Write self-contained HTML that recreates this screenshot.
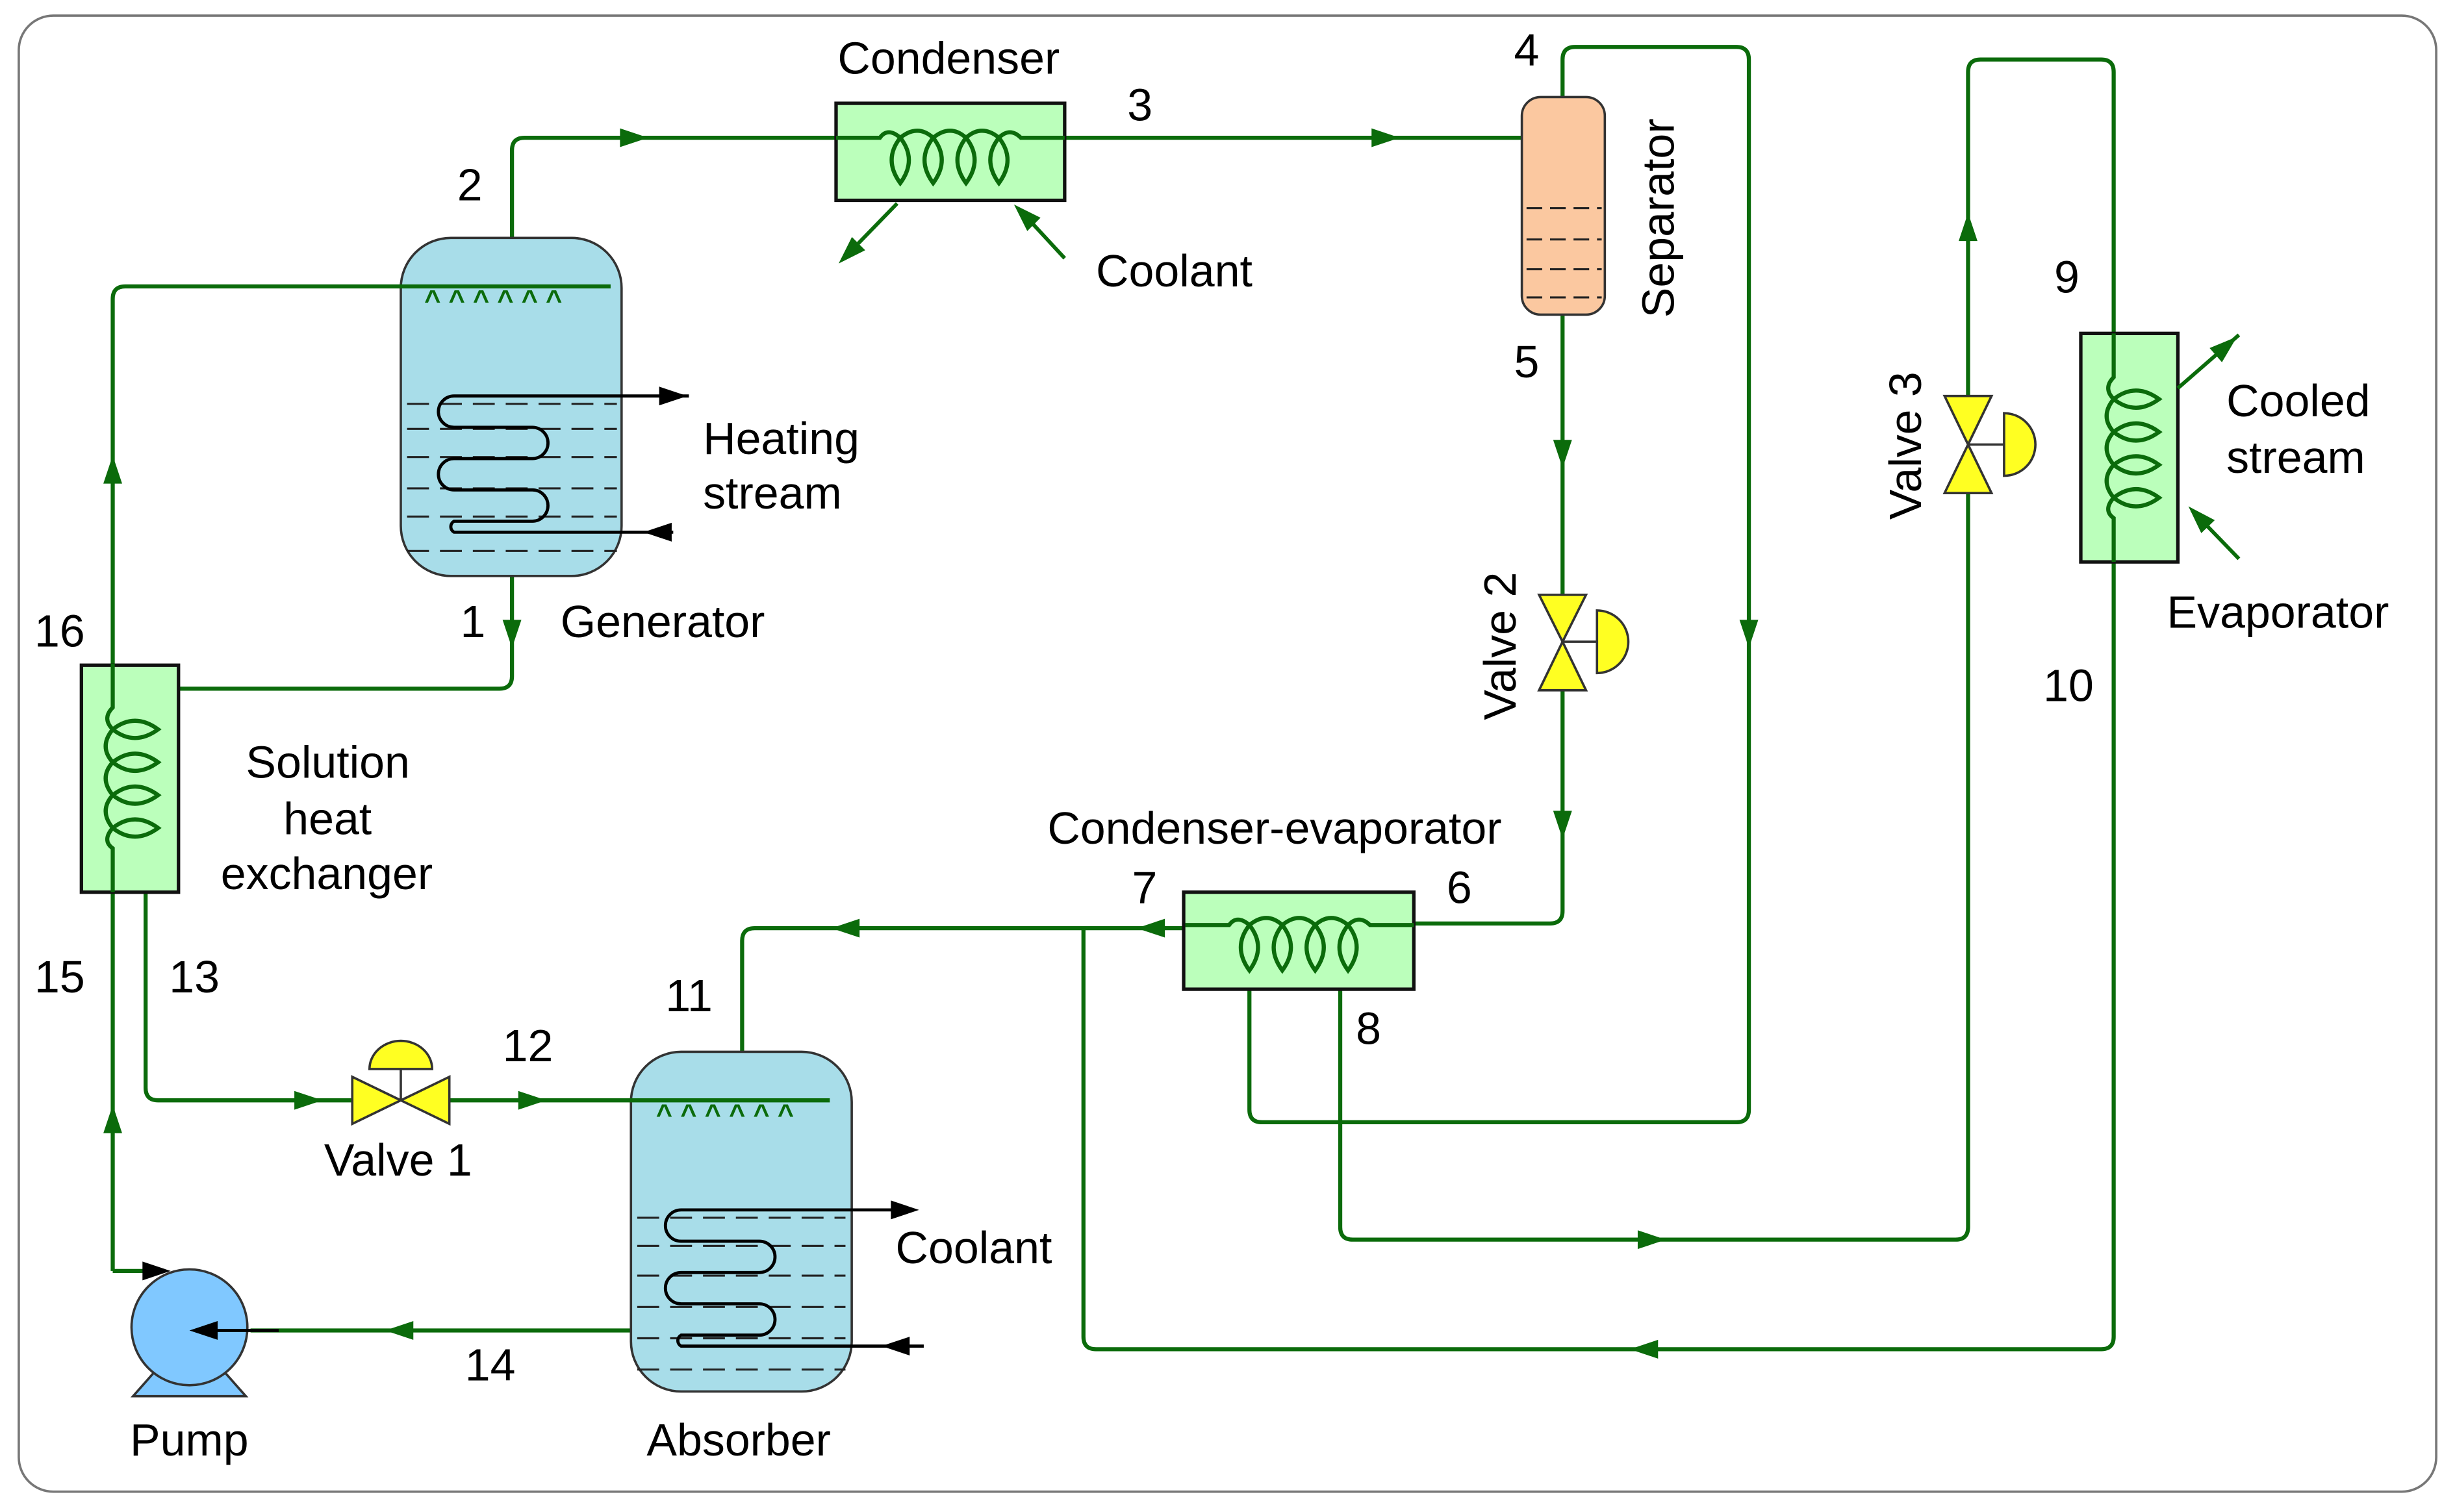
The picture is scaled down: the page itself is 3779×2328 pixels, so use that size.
<!DOCTYPE html>
<html><head><meta charset="utf-8"><style>html,body{margin:0;padding:0;background:#fff}svg{display:block}text{font-family:"Liberation Sans",sans-serif;font-size:29px;fill:#000}</style></head><body>
<svg width="3779" height="2328" viewBox="0 0 1568 966" preserveAspectRatio="none" xmlns="http://www.w3.org/2000/svg">
<defs>
<path id="ga" d="M-9,-6L9,0L-9,6z" fill="#0b6b0b"/>
<path id="ba" d="M-9,-6L9,0L-9,6z" fill="#000"/>
<g id="coil" fill="none" stroke="#0b6b0b" stroke-width="2.6">
<path d="M0,-73V-45Q-7,-38 0,-31Q-9,-20 0,-10Q-9,0 0,11Q-9,21 0,32Q-7,40 0,45V73"/>
<path d="M0,-31Q14,-42 29,-31Q14,-20 0,-31M0,-10Q14,-21 29,-10Q14,1 0,-10M0,11Q14,0 29,11Q14,22 0,11M0,32Q14,21 29,32Q14,43 0,32"/>
</g>
</defs>
<rect x="12" y="10" width="1544" height="943" rx="22" fill="#fff" stroke="#777" stroke-width="1.5"/>
<g fill="none" stroke="#0b6b0b" stroke-width="2.6" stroke-linejoin="round">
<path d="M327,152V96Q327,88 335,88H534M680,88H972"/>
<path d="M998,62V38Q998,30 1006,30H1109Q1117,30 1117,38V709Q1117,717 1109,717H806Q798,717 798,709V632"/>
<path d="M998,201V380M998,441V582Q998,590 990,590H903"/>
<path d="M756,593H482Q474,593 474,601V672"/>
<path d="M856,632V784Q856,792 864,792H1249Q1257,792 1257,784V315M1257,253V46Q1257,38 1265,38H1342Q1350,38 1350,46V213"/>
<path d="M1350,359V854Q1350,862 1342,862H700Q692,862 692,854V593"/>
<path d="M327,368V432Q327,440 319,440H114"/>
<path d="M72,425V191Q72,183 80,183H256"/>
<path d="M93,570V695Q93,703 101,703H225M287,703H403"/>
<path d="M72,570V812M72,812H100"/>
<path d="M403,850H160"/>
</g>
<g>
<use href="#ga" transform="translate(405,88)"/><use href="#ga" transform="translate(885,88)"/>
<use href="#ga" transform="translate(1117,405) rotate(90)"/><use href="#ga" transform="translate(998,290) rotate(90)"/>
<use href="#ga" transform="translate(998,527) rotate(90)"/><use href="#ga" transform="translate(735,593) rotate(180)"/>
<use href="#ga" transform="translate(540,593) rotate(180)"/><use href="#ga" transform="translate(1055,792)"/>
<use href="#ga" transform="translate(1257,145) rotate(-90)"/><use href="#ga" transform="translate(1050,862) rotate(180)"/>
<use href="#ga" transform="translate(327,405) rotate(90)"/><use href="#ga" transform="translate(72,300) rotate(-90)"/>
<use href="#ga" transform="translate(197,703)"/><use href="#ga" transform="translate(340,703)"/>
<use href="#ga" transform="translate(72,715) rotate(-90)"/><use href="#ga" transform="translate(255,850) rotate(180)"/>
</g>
<!-- Generator -->
<rect x="256" y="152" width="141" height="216" rx="32" fill="#a8dde9" stroke="#333" stroke-width="1.5"/>
<g stroke="#222" stroke-width="1.3" stroke-dasharray="14,7"><path d="M260,258H394M260,274H394M260,292H394M260,312H394M260,330H394M260,352H394"/></g>
<g fill="none" stroke="#000" stroke-width="2"><path d="M440,253H290A10,10 0 0 0 290,273H340A10,10 0 0 1 340,293H290A10,10 0 0 0 290,313H340A10,10 0 0 1 340,333H290A4,4 0 0 0 290,340H430"/></g>
<use href="#ba" transform="translate(430,253)"/><use href="#ba" transform="translate(420,340) rotate(180)"/>
<path d="M255,183H390" stroke="#0b6b0b" stroke-width="2.6"/>
<text x="271" y="198" style="fill:#0b6b0b;font-size:18px;font-weight:bold">^ ^ ^ ^ ^ ^</text>
<!-- Absorber -->
<rect x="403" y="672" width="141" height="217" rx="32" fill="#a8dde9" stroke="#333" stroke-width="1.5"/>
<g stroke="#222" stroke-width="1.3" stroke-dasharray="14,7"><path d="M407,778H540M407,796H540M407,815H540M407,835H540M407,855H540M407,875H540"/></g>
<g fill="none" stroke="#000" stroke-width="2"><path d="M580,773H435A10,10 0 0 0 435,793H485A10,10 0 0 1 485,813H435A10,10 0 0 0 435,833H485A10,10 0 0 1 485,853H435A4,4 0 0 0 435,860H590"/></g>
<use href="#ba" transform="translate(578,773)"/><use href="#ba" transform="translate(572,860) rotate(180)"/>
<path d="M402,703H530" stroke="#0b6b0b" stroke-width="2.6"/>
<text x="419" y="718" style="fill:#0b6b0b;font-size:18px;font-weight:bold">^ ^ ^ ^ ^ ^</text>
<!-- Condenser -->
<rect x="534" y="66" width="146" height="62" fill="#bbffbb" stroke="#111" stroke-width="2.2"/>
<use href="#coil" transform="translate(607,88) rotate(90)"/>
<g stroke="#0b6b0b" stroke-width="2.4"><path d="M573,130L538,166M680,165L655,138"/></g>
<use href="#ga" transform="translate(542,162) rotate(135)"/><use href="#ga" transform="translate(654,137) rotate(-135)"/>
<!-- Separator -->
<rect x="972" y="62" width="53" height="139" rx="12" fill="#fbc8a0" stroke="#333" stroke-width="1.5"/>
<g stroke="#222" stroke-width="1.3" stroke-dasharray="10,5"><path d="M975,133H1023M975,153H1023M975,172H1023M975,190H1023"/></g>
<!-- Evaporator -->
<rect x="1329" y="213" width="62" height="146" fill="#bbffbb" stroke="#111" stroke-width="2.2"/>
<use href="#coil" transform="translate(1350,286)"/>
<g stroke="#0b6b0b" stroke-width="2.4"><path d="M1391,248L1430,214M1430,357L1400,326"/></g>
<use href="#ga" transform="translate(1422,221) rotate(-41)"/><use href="#ga" transform="translate(1404,330) rotate(-134)"/>
<!-- Cond-evap -->
<rect x="756" y="570" width="147" height="62" fill="#bbffbb" stroke="#111" stroke-width="2.2"/>
<use href="#coil" transform="translate(830,591) rotate(90)"/>
<!-- SHX -->
<rect x="52" y="425" width="62" height="145" fill="#bbffbb" stroke="#111" stroke-width="2.2"/>
<use href="#coil" transform="translate(72,497)"/>
<!-- Valves -->
<g fill="#ffff22" stroke="#333" stroke-width="1.5">
<path d="M225,688L256,703L225,718zM287,688L256,703L287,718z"/><path d="M256,703V683"/><path d="M236,683A20,18 0 0 1 276,683z"/>
<path d="M983,380L998,410L1013,380zM983,441L998,410L1013,441z"/><path d="M998,410H1020"/><path d="M1020,390A20,20 0 0 1 1020,430z"/>
<path d="M1242,253L1257,284L1272,253zM1242,315L1257,284L1272,315z"/><path d="M1257,284H1280"/><path d="M1280,264A20,20 0 0 1 1280,304z"/>
</g>
<!-- Pump -->
<path d="M85,892L100,875H142L157,892z" fill="#80c8ff" stroke="#333" stroke-width="1.5"/>
<circle cx="121" cy="848" r="37" fill="#80c8ff" stroke="#333" stroke-width="1.5"/>
<path d="M178,850H130" stroke="#000" stroke-width="2"/><use href="#ba" transform="translate(130,850) rotate(180)"/>
<use href="#ba" transform="translate(100,812)"/>
<!-- Labels -->
<text x="535" y="47">Condenser</text>
<text x="720" y="77">3</text><text x="967" y="42">4</text><text x="967" y="241">5</text>
<text x="292" y="128">2</text><text x="700" y="183">Coolant</text>
<text x="449" y="290">Heating</text><text x="449" y="325">stream</text>
<text x="294" y="407">1</text><text x="358" y="407">Generator</text>
<text x="22" y="413">16</text>
<text x="157" y="497">Solution</text><text x="181" y="533">heat</text><text x="141" y="568">exchanger</text>
<text x="22" y="634">15</text><text x="108" y="634">13</text>
<text x="207" y="751">Valve 1</text><text x="321" y="678">12</text><text x="425" y="646">11</text>
<text x="83" y="930">Pump</text><text x="297" y="882">14</text><text x="413" y="930">Absorber</text>
<text x="572" y="807">Coolant</text>
<text x="669" y="539">Condenser-evaporator</text>
<text x="723" y="577">7</text><text x="924" y="577">6</text><text x="866" y="667">8</text>
<text transform="translate(968,460) rotate(-90)">Valve 2</text>
<text transform="translate(1069,203) rotate(-90)">Separator</text>
<text transform="translate(1227,332) rotate(-90)">Valve 3</text>
<text x="1312" y="187">9</text><text x="1305" y="448">10</text>
<text x="1422" y="266">Cooled</text><text x="1422" y="302">stream</text>
<text x="1384" y="401">Evaporator</text>
</svg>
</body></html>
